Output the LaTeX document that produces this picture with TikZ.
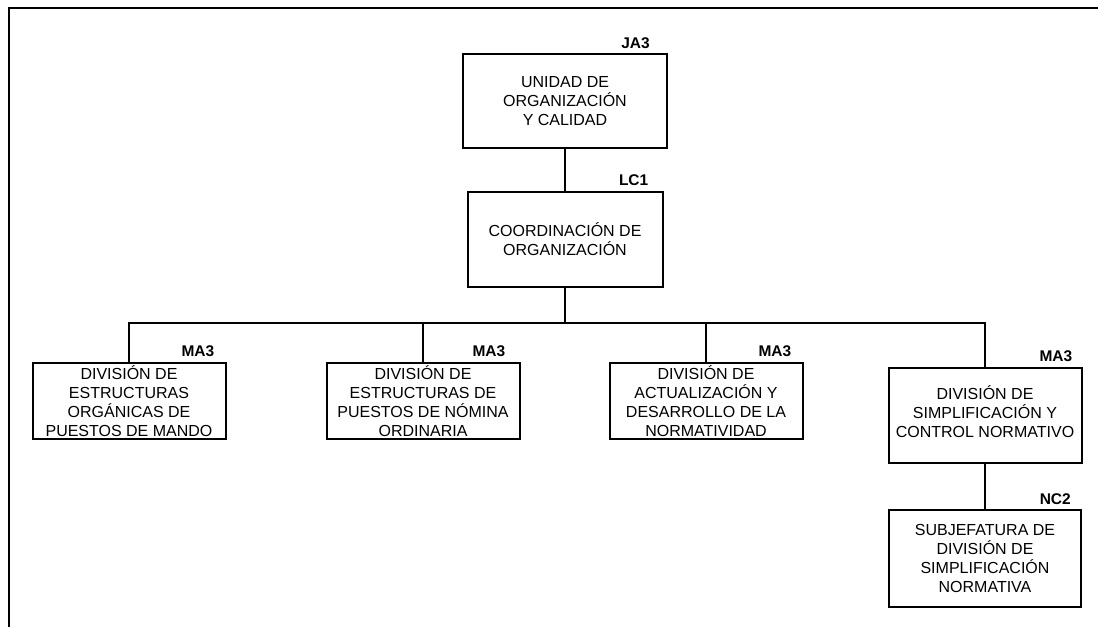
\documentclass[tikz,border=0pt]{standalone}
\usepackage{fontspec}
\setmainfont{Liberation Sans}
\usetikzlibrary{positioning}

\begin{document}
\begin{tikzpicture}[
  x=1pt, y=-1pt,
  post/.style={draw, line width=2pt, align=center, inner sep=2pt,
               minimum width=193pt, minimum height=76pt,
               font=\fontsize{16}{19}\selectfont},
  tall/.style={post, minimum height=95pt},
  code/.style={font=\fontsize{15.5}{18}\selectfont\bfseries, inner sep=0pt},
  tie/.style={line width=2pt}
]
\useasboundingbox (0,0) rectangle (1098,627);
% frame of the page
\draw[line width=2.2pt] (9,627) -- (9,8) -- (1098,8);

\node[tall, minimum width=204pt, minimum height=94pt] (unidad) at (565,101) {UNIDAD DE\\ ORGANIZACIÓN\\ Y CALIDAD};
\node[tall, minimum width=195pt] (coord) at (565,239.5) {COORDINACIÓN DE\\ ORGANIZACIÓN};
\node[post] (div1) at (129,401) {DIVISIÓN DE\\ ESTRUCTURAS\\ ORGÁNICAS DE\\ PUESTOS DE MANDO};
\node[post] (div2) at (423,401) {DIVISIÓN DE\\ ESTRUCTURAS DE\\ PUESTOS DE NÓMINA\\ ORDINARIA};
\node[post] (div3) at (706,401) {DIVISIÓN DE\\ ACTUALIZACIÓN Y\\ DESARROLLO DE LA\\ NORMATIVIDAD};
\node[tall, text depth=8pt] (div4) at (985,415.5) {DIVISIÓN DE\\ SIMPLIFICACIÓN Y\\ CONTROL NORMATIVO};
\node[tall, minimum width=192pt, minimum height=97pt] (subj) at (985,558.5) {SUBJEFATURA DE\\ DIVISIÓN DE\\ SIMPLIFICACIÓN\\ NORMATIVA};

% grade codes
\node[code, above left=4pt and 18pt of unidad.north east] (unidadcode) {JA3};
\node[code, above left=5pt and 15pt of coord.north east] (coordcode) {LC1};
\node[code, above left=5pt and 12pt of div1.north east] (div1code) {MA3};
\node[code, above left=5pt and 15pt of div2.north east] (div2code) {MA3};
\node[code, above left=5pt and 12pt of div3.north east] (div3code) {MA3};
\node[code, above left=5pt and 10pt of div4.north east] (div4code) {MA3};
\node[code, above left=4pt and 11pt of subj.north east] (subjcode) {NC2};

% connectors
\coordinate (bus) at (565,323);
\draw[tie] (unidad) -- (coord);
\draw[tie] (coord.south) -- (bus);
\draw[tie] (div1.north) |- (bus) -| (div4.north);
\draw[tie] (div2.north) -- (div2.north |- bus);
\draw[tie] (div3.north) -- (div3.north |- bus);
\draw[tie] (div4.south) -- (subj.north);
\end{tikzpicture}
\end{document}
